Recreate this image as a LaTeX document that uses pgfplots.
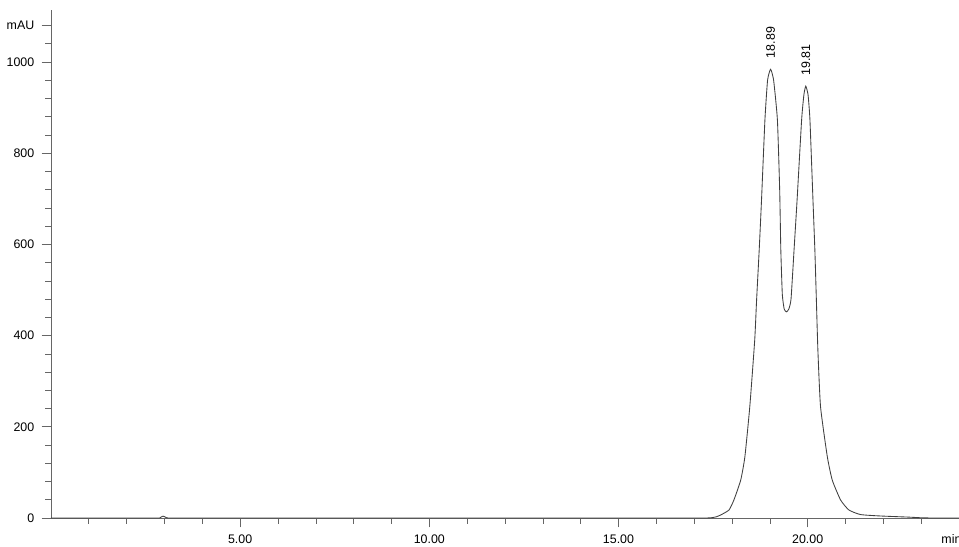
\documentclass[border=0pt]{standalone}
\usepackage{pgfplots}
\pgfplotsset{compat=1.18}
\usepackage{fontspec}
\setmainfont{Liberation Sans}
\begin{document}
\begin{tikzpicture}[x=1pt,y=1pt]
\useasboundingbox (-38.25,-21) rectangle (681,388.5);
\begin{axis}[
  at={(0,0)}, anchor=south west,
  scale only axis,
  width=681pt, height=381pt,
  xmin=0, xmax=24, ymin=0, ymax=1114,
  axis x line=bottom, axis y line=left,
  axis line style={-, draw=black!60, line width=0.5pt},
  tick style={draw=black!60, line width=0.5pt},
  tick align=outside,
  major tick length=7pt, minor tick length=4.2pt,
  xtick={5,10,15,20},
  xticklabels={5.00,10.00,15.00,20.00},
  minor xtick={1,2,3,4,6,7,8,9,11,12,13,14,16,17,18,19,21,22,23},
  ytick={0,200,400,600,800,1000,1080},
  yticklabels={0,200,400,600,800,1000,mAU},
  minor ytick={40,80,120,160,240,280,320,360,440,480,520,560,640,680,720,760,840,880,920,960,1040},
  tick label style={font=\fontsize{9.3}{11}\selectfont},
  /pgf/number format/assume math mode=true,
  xticklabel style={yshift=-2pt},
  yticklabel style={xshift=-2pt},
  clip=false,
]
\addplot[black!75, line width=0.65pt, smooth, tension=0.3] coordinates {
(0,0) (1,0) (2,0) (2.80,0) (2.88,0.3) (2.93,3) (2.96,4) (3.00,3) (3.04,1) (3.10,0) (3.20,0) (4,0)
(10,0) (17.0,0) (17.30,0) (17.45,0.5) (17.58,2.5)
(17.70,6.6) (17.92,17.5) (18.05,39.5) (18.23,83) (18.34,134) (18.47,244)
(18.60,390) (18.65,478) (18.72,590) (18.78,697) (18.87,873) (18.94,960) (19.02,984)
(19.10,960) (19.20,873) (19.26,720) (19.29,588) (19.33,490) (19.38,458) (19.44,452)
(19.50,458) (19.56,480) (19.64,588) (19.72,697) (19.84,873) (19.90,928) (19.95,947)
(20.01,928) (20.06,873) (20.14,697) (20.19,588) (20.23,478) (20.27,368)
(20.34,244) (20.52,134) (20.65,83) (20.87,39.5) (21.09,17.5) (21.40,7.5)
(21.93,4.4) (22.65,2) (23.0,0.5) (23.3,0) (23.6,0) (24,0)
};
\node[rotate=90, anchor=west, font=\fontsize{9.3}{11}\selectfont, inner sep=1pt] at (axis cs:19.02,1005) {18.89};
\node[rotate=90, anchor=west, font=\fontsize{9.3}{11}\selectfont, inner sep=1pt] at (axis cs:19.95,967) {19.81};
\node[anchor=north, font=\fontsize{9.3}{11}\selectfont, inner sep=0pt] at ([yshift=-12.5pt]axis cs:23.8,0) {min};
\end{axis}
\end{tikzpicture}
\end{document}
